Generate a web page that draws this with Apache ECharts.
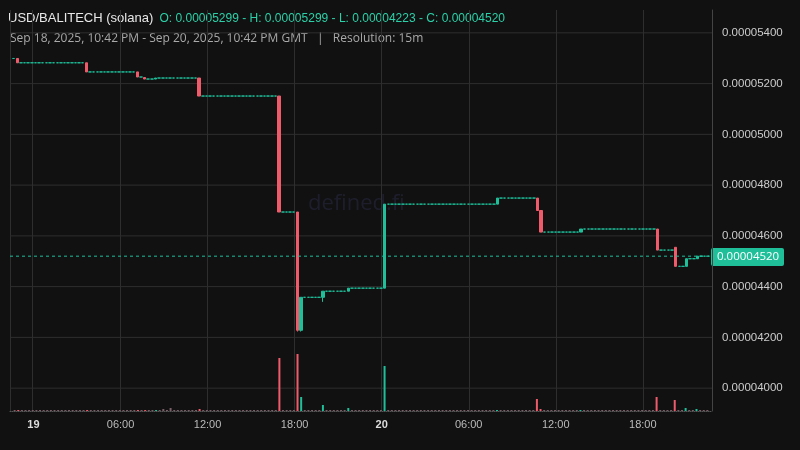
<!DOCTYPE html><html><head><meta charset="utf-8">
<script src="https://cdn.jsdelivr.net/npm/echarts@6/dist/echarts.min.js"></script>
<style>html,body{margin:0;background:#111;}#c{width:800px;height:450px;}</style></head><body><div id="c"></div>
<script>
const startUTC = Date.UTC(2025,8,18,22,42);
const candleCount = 192;
const openPrice = 0.00005299;
// price change candles: [index, open, close, high, low] (others are flat at prior close)
const changes = [
 [1, 0.00005299, 0.00005282, 0.00005299, 0.00005282],
 [20, 0.00005282, 0.00005246, 0.00005282, 0.00005246],
 [34, 0.00005246, 0.00005226, 0.00005246, 0.00005226],
 [36, 0.00005224, 0.00005218, 0.00005224, 0.00005218],
 [39, 0.00005218, 0.00005222, 0.00005222, 0.00005218],
 [51, 0.00005222, 0.00005151, 0.00005222, 0.00005151],
 [73, 0.00005151, 0.00004694, 0.00005151, 0.00004694],
 [78, 0.00004694, 0.00004228, 0.00004694, 0.00004223],
 [79, 0.00004228, 0.00004358, 0.00004358, 0.00004223],
 [85, 0.00004358, 0.00004382, 0.00004382, 0.00004340],
 [92, 0.00004382, 0.00004394, 0.00004394, 0.00004382],
 [102, 0.00004394, 0.00004725, 0.00004725, 0.00004394],
 [133, 0.00004725, 0.00004749, 0.00004749, 0.00004725],
 [144, 0.00004749, 0.00004700, 0.00004749, 0.00004700],
 [145, 0.00004700, 0.00004615, 0.00004700, 0.00004615],
 [156, 0.00004615, 0.00004627, 0.00004627, 0.00004615],
 [177, 0.00004627, 0.00004544, 0.00004627, 0.00004544],
 [182, 0.00004555, 0.00004480, 0.00004555, 0.00004480],
 [185, 0.00004480, 0.00004510, 0.00004510, 0.00004480],
 [188, 0.00004510, 0.00004520, 0.00004520, 0.00004510]
];
// notable volumes: [index, volume]
const volumes = [[1,1],[20,1],[34,1],[51,2],[36,1],[41,2],[43,3],[73,53],[78,57],[79,14],[85,6],[92,3],[102,45],[133,1],[144,12],[145,2],[156,1],[177,14],[182,11],[185,3],[188,2]];
const baseVolume = 1;
const yTicks = [0.00004,0.000042,0.000044,0.000046,0.000048,0.00005,0.000052,0.000054];
const lastPrice = 0.00004520;

const green='#1fbf9a', red='#ef5b6b';
const candles=[], vols=[];
let prev=openPrice;
const chg={}; changes.forEach(c=>chg[c[0]]=c);
const vm={}; volumes.forEach(v=>vm[v[0]]=v[1]);
for(let i=0;i<candleCount;i++){
  const t=startUTC+i*900000;
  let o,c,h,l;
  if(chg[i]){[,o,c,h,l]=chg[i];} else {o=c=h=l=prev;}
  prev=c;
  candles.push([t,o,c,l,h]);
  vols.push({value:[t, vm[i]!==undefined?vm[i]:baseVolume], itemStyle:{color: c<o?red:(c>o?green:'#7a5f68')}});
}
const fmt=v=>v.toFixed(8);
const chart=echarts.init(document.getElementById('c'));
const xmin=startUTC-900000, xmax=startUTC+candleCount*900000;
const hline=(v,color,type,z)=>({type:'line',xAxisIndex:0,yAxisIndex:0,data:[[xmin,v],[xmax,v]],symbol:'none',silent:true,z:z,lineStyle:{color:color,width:1,type:type}});
const xlab={fontSize:11,color:'#bbb',formatter:v=>{const d=new Date(v);const h=d.getUTCHours();return h===0?'{b|'+d.getUTCDate()+'}':String(h).padStart(2,'0')+':00';},rich:{b:{fontWeight:'bold',color:'#ddd',fontSize:11}}};
chart.setOption({
 backgroundColor:'#111',animation:false,
 grid:[{left:10,right:88,top:10,bottom:39},{left:10,right:88,top:311,bottom:39}],
 xAxis:[
  {type:'time',gridIndex:0,min:xmin,max:xmax,interval:6*3600000,axisLabel:{show:false},axisTick:{show:false},axisLine:{show:false},splitLine:{show:true,lineStyle:{color:'#2e2e2e'}}},
  {type:'time',gridIndex:1,min:xmin,max:xmax,interval:6*3600000,axisLabel:xlab,axisTick:{show:false},axisLine:{show:true,lineStyle:{color:'#555',type:'dotted'}},splitLine:{show:false}}
 ],
 yAxis:[
  {type:'value',gridIndex:0,position:'right',min:0.0000391,max:0.0000549,scale:true,axisLabel:{color:'#ccc',fontSize:11.5,margin:10,customValues:yTicks,formatter:fmt},axisTick:{show:false},splitLine:{show:false},axisLine:{show:true,lineStyle:{color:'#444'}}},
  {type:'value',gridIndex:1,min:0,max:100,show:false}
 ],
 series:yTicks.map(v=>hline(v,'#2e2e2e','solid',1)).concat([
  {type:'candlestick',xAxisIndex:0,yAxisIndex:0,data:candles,barWidth:3,z:3,
   itemStyle:{color:green,color0:red,borderColor:green,borderColor0:red,borderColorDoji:green,borderWidth:1}},
  hline(lastPrice,green,[3,3],4),
  {type:'bar',xAxisIndex:1,yAxisIndex:1,data:vols,barWidth:2}
 ]),
 graphic:[
  {type:'text',left:8,top:12,style:{rich:{a:{fill:'#e8e8e8',fontSize:13},b:{fill:'#2bd1a8',fontSize:12}},text:'{a|USD/BALITECH (solana)}  {b|O: 0.00005299 - H: 0.00005299 - L: 0.00004223 - C: 0.00004520}',fontFamily:'Open Sans'}},
  {type:'text',left:10,top:33,style:{text:'Sep 18, 2025, 10:42 PM - Sep 20, 2025, 10:42 PM GMT   |   Resolution: 15m',fill:'#aaa',fontSize:12,fontFamily:'Open Sans'}},
  {type:'text',left:308,top:193,style:{text:'defined.fi',fill:'rgba(90,90,170,0.18)',fontSize:22,fontFamily:'Open Sans'}},
  {type:'group',left:711,top:248,children:[{type:'rect',shape:{x:0,y:0,width:73,height:18,r:2},style:{fill:green}},{type:'text',style:{text:fmt(lastPrice),x:6,y:3,fill:'#fff',fontSize:11.5,fontFamily:'Open Sans'}}]}
 ]
});
</script></body></html>
